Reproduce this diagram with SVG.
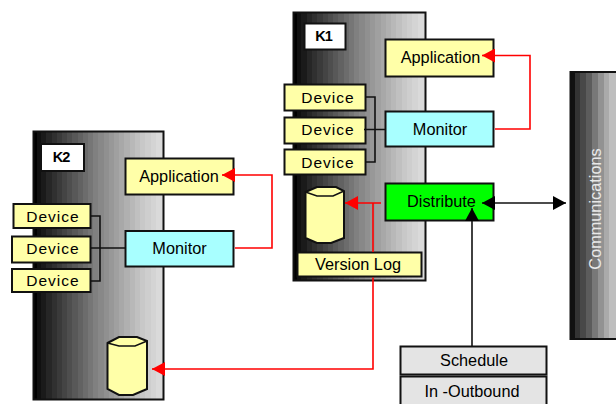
<svg xmlns="http://www.w3.org/2000/svg" width="616" height="404" viewBox="0 0 616 404">
<style>
text{font-family:"Liberation Sans",Arial,sans-serif;font-size:16.3px;fill:#000;text-anchor:middle}
.b{stroke:#111;stroke-width:2}
.y{fill:#ffffa8}
.c{fill:#a8ffff}
.g{fill:#e4e4e4}
.w{fill:#fff}
.p1{fill:url(#bands)}
.p2{fill:url(#bands2)}
.k{fill:none;stroke:#111;stroke-width:1.6}
.r{fill:none;stroke:#f00;stroke-width:1.6}
.dev{letter-spacing:1px;font-size:15.500px}
.lab{font-weight:bold;font-size:14.500px;letter-spacing:-1px}
</style>
<defs>
<linearGradient id="bands" x1="0" x2="1" y1="0" y2="0">
<stop offset="0" stop-color="#000"/><stop offset=".03" stop-color="#000"/>
<stop offset=".03" stop-color="#101010"/><stop offset=".06" stop-color="#101010"/>
<stop offset=".06" stop-color="#1a1a1a"/><stop offset=".1" stop-color="#1a1a1a"/>
<stop offset=".1" stop-color="#262626"/><stop offset=".14" stop-color="#262626"/>
<stop offset=".14" stop-color="#303030"/><stop offset=".18" stop-color="#303030"/>
<stop offset=".18" stop-color="#3a3a3a"/><stop offset=".22" stop-color="#3a3a3a"/>
<stop offset=".22" stop-color="#444"/><stop offset=".26" stop-color="#444"/>
<stop offset=".26" stop-color="#4e4e4e"/><stop offset=".3" stop-color="#4e4e4e"/>
<stop offset=".3" stop-color="#585858"/><stop offset=".34" stop-color="#585858"/>
<stop offset=".34" stop-color="#626262"/><stop offset=".38" stop-color="#626262"/>
<stop offset=".38" stop-color="#6c6c6c"/><stop offset=".42" stop-color="#6c6c6c"/>
<stop offset=".42" stop-color="#767676"/><stop offset=".46" stop-color="#767676"/>
<stop offset=".46" stop-color="#808080"/><stop offset=".5" stop-color="#808080"/>
<stop offset=".5" stop-color="#888"/><stop offset=".54" stop-color="#888"/>
<stop offset=".54" stop-color="#909090"/><stop offset=".58" stop-color="#909090"/>
<stop offset=".58" stop-color="#989898"/><stop offset=".62" stop-color="#989898"/>
<stop offset=".62" stop-color="#a0a0a0"/><stop offset=".66" stop-color="#a0a0a0"/>
<stop offset=".66" stop-color="#a8a8a8"/><stop offset=".7" stop-color="#a8a8a8"/>
<stop offset=".7" stop-color="#b0b0b0"/><stop offset=".74" stop-color="#b0b0b0"/>
<stop offset=".74" stop-color="#b8b8b8"/><stop offset=".78" stop-color="#b8b8b8"/>
<stop offset=".78" stop-color="#c0c0c0"/><stop offset=".82" stop-color="#c0c0c0"/>
<stop offset=".82" stop-color="#c8c8c8"/><stop offset=".86" stop-color="#c8c8c8"/>
<stop offset=".86" stop-color="#cecece"/><stop offset=".9" stop-color="#cecece"/>
<stop offset=".9" stop-color="#d4d4d4"/><stop offset=".94" stop-color="#d4d4d4"/>
<stop offset=".94" stop-color="#dadada"/><stop offset="1" stop-color="#dadada"/>
</linearGradient>
<linearGradient id="bands2" x1="0" x2="1" y1="0" y2="0">
<stop offset="0" stop-color="#111"/><stop offset=".09" stop-color="#111"/>
<stop offset=".09" stop-color="#333"/><stop offset=".18" stop-color="#333"/>
<stop offset=".18" stop-color="#484848"/><stop offset=".3" stop-color="#484848"/>
<stop offset=".3" stop-color="#5c5c5c"/><stop offset=".42" stop-color="#5c5c5c"/>
<stop offset=".42" stop-color="#787878"/><stop offset=".54" stop-color="#787878"/>
<stop offset=".54" stop-color="#929292"/><stop offset=".66" stop-color="#929292"/>
<stop offset=".66" stop-color="#aaa"/><stop offset=".78" stop-color="#aaa"/>
<stop offset=".78" stop-color="#bebebe"/><stop offset=".9" stop-color="#bebebe"/>
<stop offset=".9" stop-color="#ccc"/><stop offset="1" stop-color="#ccc"/>
</linearGradient>
<marker id="ar" markerUnits="userSpaceOnUse" markerWidth="14" markerHeight="14" refX="13" refY="7" orient="auto-start-reverse"><path d="M0 0L13 7L0 14Z" fill="#f00"/></marker>
<marker id="ak" markerUnits="userSpaceOnUse" markerWidth="14" markerHeight="14" refX="13" refY="7" orient="auto-start-reverse"><path d="M0 0L13 7L0 14Z" fill="#000"/></marker>
</defs>

<g id="k1-panel"><rect class="b p1" x="293.500" y="12.500" width="132" height="268"/></g>
<g id="k2-panel"><rect class="b p1" x="33.500" y="131.500" width="130" height="268"/></g>
<g id="communications"><rect class="b p2" x="570.500" y="72" width="50" height="267"/><text transform="translate(601 209) rotate(-90)" style="fill:#e8e8e8">Communications</text></g>

<g id="k1-label"><rect class="b w" x="304.500" y="23.500" width="41" height="26"/><text class="lab" x="323.500" y="41">K1</text></g>
<g id="k1-application"><rect class="b y" x="385.500" y="39.500" width="108" height="37"/><text x="440.500" y="63">Application</text></g>
<g id="k1-device1"><rect class="b y" x="284.500" y="84.500" width="81" height="26"/><text class="dev" x="328" y="103">Device</text></g>
<g id="k1-device2"><rect class="b y" x="284.500" y="117.500" width="81" height="26"/><text class="dev" x="328" y="135">Device</text></g>
<g id="k1-device3"><rect class="b y" x="284.500" y="149.500" width="81" height="25"/><text class="dev" x="328" y="168">Device</text></g>
<g id="k1-monitor"><rect class="b c" x="385.500" y="111.500" width="108" height="35"/><text x="440" y="135">Monitor</text></g>
<g id="k1-distribute"><rect x="385.500" y="183.500" width="108" height="37" stroke="#111" stroke-width="2" fill="#0f0"/><text x="441.500" y="207">Distribute</text></g>
<g id="k1-store"><path class="b y" d="M305.500 192L317 187H336L344 191V238L331 243H317L305.500 238Z"/><path d="M305.500 192L317 196H333L344 191" fill="none" stroke="#111" stroke-width="1.500"/></g>
<g id="k1-version-log"><rect class="b y" x="297.500" y="252.500" width="124" height="24"/><text x="358" y="270">Version Log</text></g>

<g id="k2-label"><rect class="b w" x="41" y="144" width="43" height="27"/><text class="lab" x="61" y="162">K2</text></g>
<g id="k2-application"><rect class="b y" x="125.500" y="158.500" width="108" height="36"/><text x="179" y="182">Application</text></g>
<g id="k2-device1"><rect class="b y" x="13.500" y="204" width="77" height="24"/><text class="dev" x="53" y="222">Device</text></g>
<g id="k2-device2"><rect class="b y" x="12" y="236.500" width="78.500" height="26"/><text class="dev" x="53" y="254">Device</text></g>
<g id="k2-device3"><rect class="b y" x="12" y="269" width="78.500" height="23"/><text class="dev" x="53" y="286">Device</text></g>
<g id="k2-monitor"><rect class="b c" x="125.500" y="231" width="108" height="35.500"/><text x="179.500" y="254">Monitor</text></g>
<g id="k2-store"><path class="b y" d="M107.500 343L119 337H137L147 341V389L133 395H119L107.500 389Z"/><path d="M107.500 343L119 346H135L147 341" fill="none" stroke="#111" stroke-width="1.500"/></g>

<g id="schedule"><rect class="b g" x="400.500" y="346.500" width="146" height="28"/><text x="474" y="366">Schedule</text></g>
<g id="in-outbound"><rect class="b g" x="400.500" y="376.500" width="146" height="30"/><text x="472" y="397">In -Outbound</text></g>

<g id="connectors">
<path class="k" d="M366 97H375V162H366M364 129.500H386"/>
<path class="k" d="M91 216H100V281H91M91 248H126"/>
<path class="r" marker-end="url(#ar)" d="M495 55.500H482"/>
<path class="r" d="M495 129H530V55.500H495"/>
<path class="r" marker-end="url(#ar)" d="M235 175H222"/>
<path class="r" d="M235 248H272V175H235"/>
<path class="r" marker-end="url(#ar)" d="M381 203H345"/>
<path class="r" d="M373 203V252M373 277.500V369H165"/>
<path class="r" marker-end="url(#ar)" d="M165 369H152"/>
<path class="k" marker-start="url(#ak)" marker-end="url(#ak)" d="M482 203H566"/>
<path class="k" marker-end="url(#ak)" d="M472 346V208"/>
</g>
</svg>
